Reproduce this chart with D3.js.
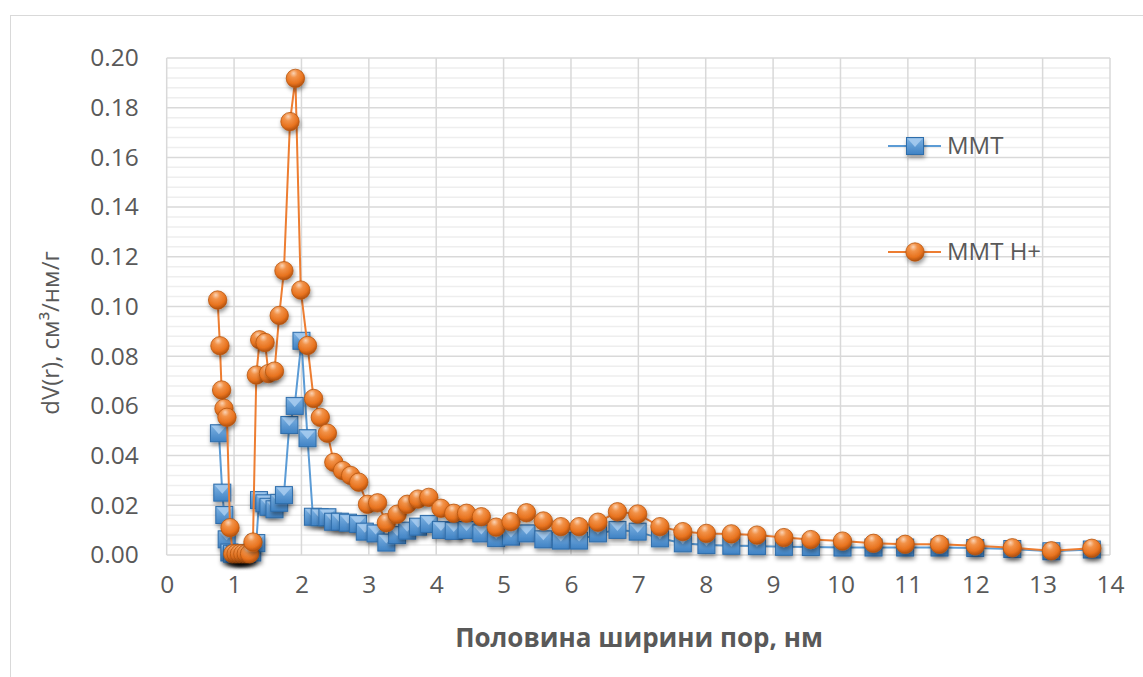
<!DOCTYPE html>
<html><head><meta charset="utf-8">
<script src="https://d3js.org/d3.v7.min.js"></script>
<style>body{margin:0;background:#fff}svg{display:block}text{font-family:"Open Sans",sans-serif}</style>
</head><body>
<svg id="c" width="1143" height="677"></svg>
<script>
const seriesNames = ["MMT", "MMT H+"];
const xTicks = [0,1,2,3,4,5,6,7,8,9,10,11,12,13,14];
const yTicks = [0,0.02,0.04,0.06,0.08,0.10,0.12,0.14,0.16,0.18,0.20];
const xTitle = "Половина ширини пор, нм";
const yTitle = "dV(r), см³/нм/г";

const mmtX = [0.775,0.825,0.855,0.89,0.93,0.97,1.01,1.05,1.09,1.14,1.19,1.27,1.33,1.37,1.45,1.51,1.6,1.67,1.74,1.82,1.9,2.0,2.09,2.17,2.27,2.385,2.47,2.57,2.69,2.84,2.94,3.1,3.26,3.42,3.57,3.73,3.89,4.07,4.26,4.45,4.67,4.89,5.11,5.34,5.59,5.85,6.12,6.4,6.69,6.99,7.32,7.66,8.01,8.38,8.76,9.16,9.56,10.03,10.49,10.96,11.47,12.0,12.55,13.13,13.73];
const mmtY = [0.049,0.0251,0.0161,0.0063,0.001,0.0005,0.0005,0.0005,0.0005,0.0005,0.0005,0.001,0.0048,0.0221,0.0208,0.0194,0.0184,0.021,0.0241,0.0523,0.060,0.0862,0.047,0.0154,0.0152,0.0152,0.0134,0.0134,0.013,0.0125,0.0094,0.0087,0.005,0.008,0.0098,0.0114,0.0125,0.0101,0.0097,0.0101,0.0087,0.0068,0.0074,0.0087,0.0063,0.0058,0.0058,0.0087,0.0101,0.0094,0.0067,0.0047,0.004,0.0037,0.0036,0.0033,0.0032,0.003,0.003,0.003,0.003,0.0028,0.0024,0.0015,0.0022];

const mmtHX = [0.756,0.79,0.815,0.85,0.894,0.94,0.98,1.03,1.08,1.13,1.18,1.23,1.28,1.33,1.38,1.46,1.51,1.6,1.67,1.74,1.83,1.91,1.99,2.09,2.18,2.28,2.385,2.48,2.61,2.73,2.85,2.98,3.13,3.26,3.42,3.57,3.73,3.89,4.07,4.26,4.45,4.67,4.89,5.11,5.34,5.59,5.85,6.12,6.4,6.69,6.99,7.32,7.66,8.01,8.38,8.76,9.16,9.56,10.03,10.49,10.96,11.47,12.0,12.55,13.13,13.73];
const mmtHY = [0.1026,0.0842,0.0664,0.059,0.0554,0.011,0.0005,0.0005,0.0005,0.0005,0.0005,0.0005,0.0052,0.0724,0.0866,0.0855,0.073,0.074,0.0964,0.1144,0.1744,0.1918,0.1066,0.0843,0.063,0.0554,0.049,0.0373,0.034,0.032,0.0293,0.0204,0.021,0.013,0.0164,0.0204,0.0225,0.0232,0.0188,0.0168,0.0168,0.0154,0.0112,0.0134,0.017,0.0137,0.0114,0.0114,0.0132,0.0174,0.0165,0.0114,0.0094,0.0087,0.0085,0.008,0.007,0.0062,0.0056,0.0047,0.0043,0.0043,0.0037,0.0029,0.0017,0.0027];

const svg = d3.select("#c");
const defs = svg.append("defs");
const sh = defs.append("filter").attr("id","sh").attr("x","-50%").attr("y","-50%").attr("width","200%").attr("height","200%");
sh.append("feDropShadow").attr("dx",1).attr("dy",3).attr("stdDeviation",2).attr("flood-color","#000").attr("flood-opacity",0.4);
const rg = defs.append("radialGradient").attr("id","og").attr("cx","42%").attr("cy","30%").attr("r","72%").attr("fx","40%").attr("fy","22%");
[["0%","#FAD3B5"],["30%","#F29248"],["70%","#E8731F"],["100%","#A94C0C"]].forEach(s=>rg.append("stop").attr("offset",s[0]).attr("stop-color",s[1]));
const bg = defs.append("linearGradient").attr("id","bg").attr("x1",0).attr("y1",0).attr("x2",0).attr("y2",1);
[["0%","#7FB3E3"],["100%","#3F82C4"]].forEach(s=>bg.append("stop").attr("offset",s[0]).attr("stop-color",s[1]));

// outer border
svg.append("rect").attr("x",10.5).attr("y",15.5).attr("width",1140).attr("height",670).attr("fill","none").attr("stroke","#d9d9d9").attr("stroke-width",1);

const x = d3.scaleLinear().domain([0,14]).range([166.7,1110]);
const y = d3.scaleLinear().domain([0,0.2]).range([555,58]);

// minor gridlines
const minor = d3.range(0,0.2001,0.004).filter(v=>Math.abs(v/0.02-Math.round(v/0.02))>1e-6);
svg.append("g").selectAll("line").data(minor).join("line")
  .attr("x1",x(0)).attr("x2",x(14)).attr("y1",d=>y(d)).attr("y2",d=>y(d))
  .attr("stroke","#eeeeee").attr("stroke-width",1.5);
// major gridlines
svg.append("g").selectAll("line").data(yTicks).join("line")
  .attr("x1",x(0)).attr("x2",x(14)).attr("y1",d=>y(d)).attr("y2",d=>y(d))
  .attr("stroke","#d9d9d9").attr("stroke-width",1.5);
svg.append("g").selectAll("line").data(xTicks).join("line")
  .attr("x1",d=>x(d)).attr("x2",d=>x(d)).attr("y1",y(0)).attr("y2",y(0.2))
  .attr("stroke","#d9d9d9").attr("stroke-width",1.5);

// axes
const yAx = svg.append("g").attr("transform",`translate(${x(0)-28},0)`)
  .call(d3.axisLeft(y).tickValues(yTicks).tickFormat(d3.format(".2f")).tickSize(0).tickPadding(0));
const xAx = svg.append("g").attr("transform",`translate(0,${y(0)+20})`)
  .call(d3.axisBottom(x).tickValues(xTicks).tickFormat(d3.format("d")).tickSize(0).tickPadding(0));
[yAx,xAx].forEach(g=>{g.select(".domain").remove();g.selectAll("text").attr("fill","#595959").style("font-size","24.5px").style("font-family","Open Sans");});
xAx.selectAll("text").attr("dy","0.75em");

svg.append("text").attr("x",639).attr("y",647).attr("text-anchor","middle")
  .attr("fill","#595959").style("font-size","26px").style("font-weight","bold").text(xTitle);
svg.append("text").attr("transform","translate(59,333) rotate(-90)").attr("text-anchor","middle")
  .attr("fill","#595959").style("font-size","24px").text(yTitle);

const blue="#5B9BD5", orange="#ED7D31";
const line = d3.line().x(d=>x(d[0])).y(d=>y(d[1]));
const mmt = mmtX.map((v,i)=>[v,mmtY[i]]);
const mmtH = mmtHX.map((v,i)=>[v,mmtHY[i]]);

function square(g, cx, cy){
  const s=8.5;
  const gg = g.append("g").attr("filter","url(#sh)");
  gg.append("rect").attr("x",cx-s).attr("y",cy-s).attr("width",2*s).attr("height",2*s)
    .attr("fill","url(#bg)").attr("stroke","#2F6DAA").attr("stroke-width",1);
  gg.append("path").attr("d",`M${cx-s+1},${cy-s+1}L${cx+s-1},${cy-s+1}L${cx},${cy+1}Z`).attr("fill","#A8CDF0").attr("opacity",0.85);
}
function ball(g, cx, cy){
  g.append("circle").attr("cx",cx).attr("cy",cy).attr("r",9.2).attr("fill","url(#og)")
    .attr("stroke","#B8560F").attr("stroke-width",0.8).attr("filter","url(#sh)");
}

svg.append("path").datum(mmt).attr("d",line).attr("fill","none").attr("stroke",blue).attr("stroke-width",2);
const gb = svg.append("g");
mmt.forEach(d=>square(gb, x(d[0]), y(d[1])));
svg.append("path").datum(mmtH).attr("d",line).attr("fill","none").attr("stroke",orange).attr("stroke-width",2);
const go = svg.append("g");
mmtH.forEach(d=>ball(go, x(d[0]), y(d[1])));

// legend
const leg = svg.append("g");
const ly = [146, 252];
leg.append("line").attr("x1",888).attr("x2",941).attr("y1",ly[0]).attr("y2",ly[0]).attr("stroke",blue).attr("stroke-width",2);
square(leg, 915, ly[0]);
leg.append("line").attr("x1",888).attr("x2",941).attr("y1",ly[1]).attr("y2",ly[1]).attr("stroke",orange).attr("stroke-width",2);
ball(leg, 915, ly[1]);
seriesNames.forEach((n,i)=>leg.append("text").attr("x",947).attr("y",ly[i]).attr("dy","0.35em")
  .attr("fill","#595959").style("font-size","24px").text(n));
</script>
</body></html>
